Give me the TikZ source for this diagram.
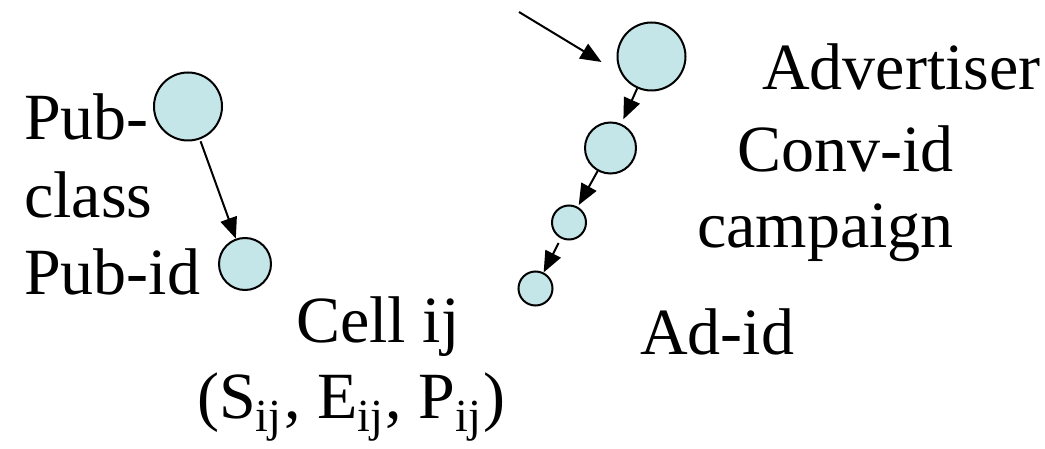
\documentclass[tikz,border=0pt]{standalone}
\usepackage{fontspec}
\setmainfont{Liberation Serif}
\usetikzlibrary{arrows.meta,calc}
\definecolor{ballfill}{RGB}{196,230,232}
\tikzset{
  ball/.style={circle,draw=black,fill=ballfill,line width=2pt,inner sep=0pt},
  lbl/.style={anchor=base west,inner sep=0pt,font=\fontsize{66}{72}\selectfont},
  conn/.style={line width=2pt,-{Triangle[length=21pt,width=17pt]}}
}
\newcommand{\sbij}{\raisebox{-0.2em}{\fontsize{46}{50}\selectfont ij}\hspace{0.04em}}
\begin{document}
\begin{tikzpicture}[x=1pt,y=-1pt]
\useasboundingbox (0,0) rectangle (1045,449);
% circles
\node[ball,minimum size=68pt] (adv) at (651.5,56.5) {};
\node[ball,minimum size=51pt] (conv) at (610.5,148) {};
\node[ball,minimum size=34pt] (camp) at (569,222.5) {};
\node[ball,minimum size=34pt] (ad) at (535.5,288.5) {};
\node[ball,minimum size=68pt] (pcl) at (188,106.5) {};
\node[ball,minimum size=52pt] (pid) at (245,264) {};
\coordinate (src) at (519,12);
% connectors
\draw[conn] (src) -- ($(adv.west)+(-15,5.5)$);
\draw[conn,shorten >=5pt] (adv) -- (conv);
\draw[conn,shorten >=2pt] (conv) -- (camp);
\draw[conn,shorten <=5pt] (camp) -- (ad);
\draw[conn,shorten <=2pt] (pcl) -- (pid);
% labels
\node[lbl] (tadv) at (762,90) {Advertiser};
\node[lbl] (tconv) at (737,172) {Conv-id};
\node[lbl] (tcamp) at (697,248) {campaign};
\node[lbl] (tad) at (640,355) {Ad-id};
\node[lbl] (tpub) at (24,140) {Pub-};
\node[lbl] (tclass) at (24,218) {class};
\node[lbl] (tpid) at (24,295) {Pub-id};
\node[lbl] (tcell) at (296,342) {Cell ij};
\node[lbl] (tsep) at (197,418) {(S\sbij, E\sbij, P\sbij)};
\end{tikzpicture}
\end{document}
